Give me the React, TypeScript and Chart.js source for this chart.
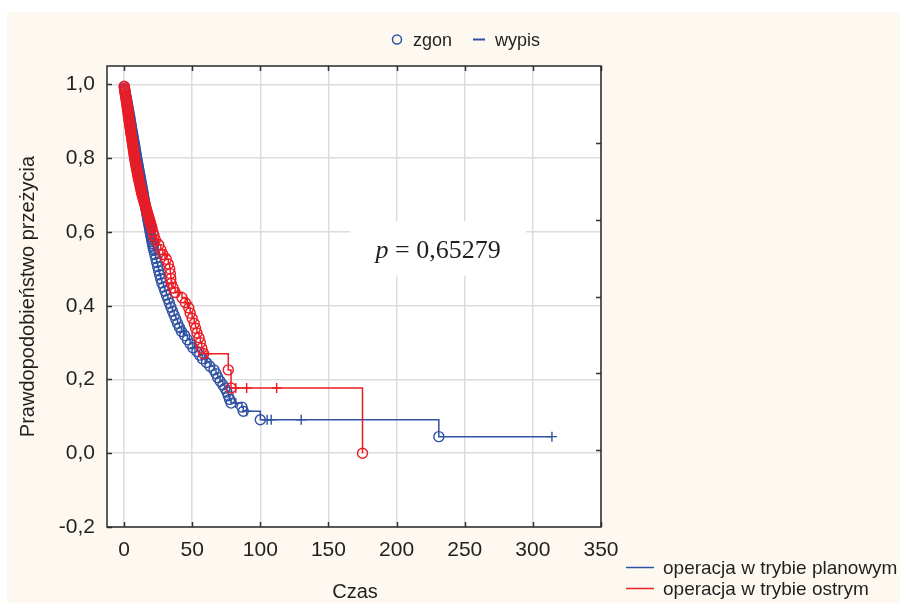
import React, { useEffect, useRef } from "react";
import { Chart, registerables } from "chart.js";

Chart.register(...registerables);

// ---------- DATA ----------
// operacja w trybie planowym (blue) — events (zgon)
const planEventTimes = [
  0.15, 0.4, 0.7, 1.0, 1.3, 1.6, 1.9, 2.2, 2.5, 2.8, 3.1, 3.4, 3.7, 4.0, 4.3, 4.5, 4.8,
  5.1, 5.4, 5.6, 5.9, 6.2, 6.5, 6.7, 7.0, 7.3, 7.6, 7.9, 8.1, 8.4, 8.7, 9.0, 9.2,
  9.5, 9.8, 10.1, 10.4, 10.7, 11.0, 11.3, 11.6, 11.9, 12.2, 12.5, 12.8, 13.1, 13.4, 13.7, 13.9, 14.2,
  14.5, 14.8, 15.1, 15.4, 15.7, 16.0, 16.3, 16.6, 16.9, 17.2, 17.5, 17.8, 18.1, 18.4, 18.7, 19.0, 19.3,
  19.6, 19.9, 20.2, 20.5, 20.9, 21.2, 21.5, 21.9,
  22.6, 23.3, 24.0, 24.7, 25.4, 26.1, 26.9, 27.7, 29.0, 30.0, 31.1, 32.2, 33.3, 34.4, 35.6, 36.8,
  38.0, 39.3, 40.7, 42.2, 44.5, 46.5, 48.5, 50.5, 53.5, 55.5, 57.5, 60.5, 63.0, 66.0, 67.5, 68.8,
  70.5, 72.5, 74.0, 75.5, 76.5, 77.5, 78.5, 86.5, 87.5, 100, 231,
];
const planEventSurv = [
  0.994, 0.988, 0.982, 0.976, 0.97, 0.964, 0.958, 0.952, 0.946, 0.94, 0.934, 0.928, 0.922, 0.916, 0.91, 0.904, 0.898,
  0.892, 0.886, 0.88, 0.874, 0.868, 0.862, 0.856, 0.85, 0.844, 0.838, 0.832, 0.826, 0.82, 0.814, 0.808, 0.802,
  0.796, 0.79, 0.784, 0.778, 0.772, 0.766, 0.76, 0.754, 0.748, 0.742, 0.736, 0.73, 0.724, 0.718, 0.712, 0.706, 0.7,
  0.694, 0.688, 0.682, 0.676, 0.67, 0.664, 0.658, 0.652, 0.646, 0.64, 0.634, 0.628, 0.622, 0.616, 0.61, 0.604, 0.598,
  0.592, 0.586, 0.58, 0.574, 0.568, 0.562, 0.556, 0.55,
  0.539, 0.528, 0.517, 0.506, 0.495, 0.484, 0.473, 0.462, 0.451, 0.44, 0.429, 0.418, 0.407, 0.396, 0.385, 0.374,
  0.363, 0.352, 0.341, 0.33, 0.319, 0.308, 0.297, 0.286, 0.276, 0.266, 0.256, 0.246, 0.236, 0.226, 0.216, 0.205,
  0.195, 0.185, 0.176, 0.166, 0.156, 0.146, 0.136, 0.125, 0.114, 0.091, 0.045,
];
// operacja w trybie planowym — censored (wypis)
const planCensorTimes = [43.5, 52, 59.5, 82, 90, 105, 108, 130, 314];
const planCensorSurv = [0.33, 0.286, 0.256, 0.136, 0.114, 0.091, 0.091, 0.091, 0.045];

// operacja w trybie ostrym (red) — events (zgon)
const acuteEventTimes = [
  0.15, 0.3, 0.5, 0.7, 0.9, 1.1, 1.3, 1.5, 1.7, 1.9, 2.1, 2.3, 2.5, 2.7, 2.9, 3.0, 3.2, 3.4, 3.6, 3.8,
  4.0, 4.2, 4.4, 4.6, 4.8, 5.0, 5.2, 5.4, 5.6, 5.8, 6.0, 6.2, 6.4, 6.6, 6.8, 7.0, 7.2, 7.4, 7.6, 7.8,
  8.0, 8.3, 8.5, 8.8, 9.0, 9.3, 9.5, 9.8, 10.0, 10.3, 10.6, 10.9, 11.2, 11.5, 11.8, 12.1, 12.4, 12.7, 13.0, 13.3,
  13.7, 14.1, 14.5, 14.9, 15.3, 15.7, 16.1, 16.5, 16.9, 17.3, 17.7, 18.1, 18.5, 18.9, 19.3, 19.7, 20.1, 20.5,
  21.2, 22.0, 23.0, 25.5, 27.0, 28.5, 31.0, 32.5, 33.5, 34.0, 34.3, 34.6, 36.0, 37.5, 42.5, 45.0,
  47.5, 48.5, 50.0, 51.5, 52.5, 53.5, 55.0, 56.0, 57.0, 58.5, 76.5, 78.5, 175,
];
const acuteEventSurv = [
  0.995, 0.99, 0.985, 0.98, 0.975, 0.97, 0.965, 0.96, 0.955, 0.95, 0.945, 0.94, 0.935, 0.93, 0.925, 0.92, 0.915, 0.91, 0.905, 0.9,
  0.895, 0.89, 0.885, 0.88, 0.875, 0.87, 0.865, 0.86, 0.855, 0.85, 0.845, 0.84, 0.835, 0.83, 0.825, 0.82, 0.815, 0.81, 0.805, 0.8,
  0.795, 0.79, 0.785, 0.78, 0.775, 0.77, 0.765, 0.76, 0.755, 0.75, 0.745, 0.74, 0.735, 0.73, 0.725, 0.72, 0.715, 0.71, 0.705, 0.7,
  0.695, 0.69, 0.685, 0.68, 0.675, 0.67, 0.665, 0.66, 0.655, 0.65, 0.645, 0.64, 0.635, 0.63, 0.625, 0.62, 0.615, 0.61,
  0.6, 0.59, 0.578, 0.565, 0.552, 0.539, 0.526, 0.513, 0.5, 0.487, 0.474, 0.461, 0.448, 0.436, 0.422, 0.408,
  0.394, 0.38, 0.366, 0.352, 0.339, 0.326, 0.313, 0.3, 0.285, 0.27, 0.226, 0.177, 0,
];
// operacja w trybie ostrym — censored (wypis)
const acuteCensorTimes = [24.0, 30.0, 35.0, 40.0, 46.5, 61.0, 82.0, 90.0, 112];
const acuteCensorSurv = [0.578, 0.539, 0.461, 0.436, 0.408, 0.27, 0.177, 0.177, 0.177];

const seriesLabels = ["operacja w trybie planowym", "operacja w trybie ostrym"];
const markerLabels = ["zgon", "wypis"];
const xTickValues = [0, 50, 100, 150, 200, 250, 300, 350];
const yTickValues = [-0.2, 0, 0.2, 0.4, 0.6, 0.8, 1.0];
const rightTickValues = [0, 1, 2, 3, 4];
const xTitle = "Czas";
const yTitle = "Prawdopodobieństwo przeżycia";
const pValue = "0,65279";

// ---------- STYLE / LAYOUT ----------
const BLUE = "#2f52a3";
const RED = "#ec1c24";
const CREAM = "#fdf9f1";
const TEXT = "#231f20";
const SANS = '"Liberation Sans", Arial, sans-serif';
const SERIF = '"Liberation Serif", "Times New Roman", serif';
const pBoxX = [166, 295];
const pBoxY = [0.482, 0.63];

type Pt = { x: number; y: number; k: string };

function mergeSeries(et: number[], es: number[], ct: number[], cs: number[]): Pt[] {
  const pts: Pt[] = [{ x: 0, y: 1, k: "" }];
  et.forEach((x, i) => pts.push({ x, y: es[i], k: "o" }));
  ct.forEach((x, i) => pts.push({ x, y: cs[i], k: "+" }));
  return pts.sort((a, b) => a.x - b.x || (a.k === "+" ? 1 : 0) - (b.k === "+" ? 1 : 0));
}

function buildDataset(label: string, pts: Pt[], color: string, order: number) {
  return {
    label,
    data: pts.map((p) => ({ x: p.x, y: p.y })),
    borderColor: color,
    backgroundColor: color,
    borderWidth: 1.5,
    stepped: true as const,
    fill: false,
    order,
    pointStyle: pts.map((p) => (p.k === "+" ? "cross" : "circle")),
    pointRadius: pts.map((p) => (p.k === "" ? 0 : 5)),
    pointBorderWidth: 1.4,
    pointBorderColor: color,
    pointBackgroundColor: "rgba(0,0,0,0)",
    pointHoverRadius: 0,
  };
}

const decoPlugin = {
  id: "deco",
  beforeDraw(chart: any) {
    const { ctx, chartArea: a, width, height } = chart;
    ctx.save();
    ctx.fillStyle = "#ffffff";
    ctx.fillRect(0, 0, width, height);
    ctx.fillStyle = CREAM;
    ctx.fillRect(7, 12, width - 7, height - 14);
    ctx.fillStyle = "#ffffff";
    ctx.fillRect(a.left, a.top, a.right - a.left, a.bottom - a.top);
    ctx.restore();
  },
  beforeDatasetsDraw(chart: any) {
    const { ctx } = chart;
    const xs = chart.scales.x;
    const ys = chart.scales.y;
    const x0 = xs.getPixelForValue(pBoxX[0]);
    const x1 = xs.getPixelForValue(pBoxX[1]);
    const y0 = ys.getPixelForValue(pBoxY[1]);
    const y1 = ys.getPixelForValue(pBoxY[0]);
    ctx.save();
    ctx.fillStyle = "#ffffff";
    ctx.fillRect(x0, y0, x1 - x0, y1 - y0);
    ctx.fillStyle = TEXT;
    ctx.textBaseline = "alphabetic";
    ctx.font = `italic 26px ${SERIF}`;
    const wp = ctx.measureText("p").width;
    ctx.font = `26px ${SERIF}`;
    const rest = " = " + pValue;
    const wr = ctx.measureText(rest).width;
    const cx = (x0 + x1) / 2;
    const start = cx - (wp + wr) / 2;
    const base = (y0 + y1) / 2 + 10;
    ctx.font = `italic 26px ${SERIF}`;
    ctx.fillText("p", start, base);
    ctx.font = `26px ${SERIF}`;
    ctx.fillText(rest, start + wp, base);
    ctx.restore();
  },
  afterDraw(chart: any) {
    const { ctx, chartArea: a } = chart;
    const xs = chart.scales.x;
    const ys = chart.scales.y;
    const y2 = chart.scales.y2;
    ctx.save();
    ctx.strokeStyle = "#333333";
    ctx.lineWidth = 1.5;
    ctx.beginPath();
    xTickValues.forEach((v) => {
      const px = Math.round(xs.getPixelForValue(v)) + 0.5;
      ctx.moveTo(px, a.bottom);
      ctx.lineTo(px, a.bottom - 5);
      ctx.moveTo(px, a.top);
      ctx.lineTo(px, a.top + 5);
    });
    yTickValues.forEach((v) => {
      const py = Math.round(ys.getPixelForValue(v)) + 0.5;
      ctx.moveTo(a.left, py);
      ctx.lineTo(a.left + 5, py);
    });
    rightTickValues.forEach((v) => {
      const py = Math.round(y2.getPixelForValue(v)) + 0.5;
      ctx.moveTo(a.right, py);
      ctx.lineTo(a.right - 5, py);
    });
    ctx.stroke();
    ctx.strokeStyle = "#2a2a2a";
    ctx.lineWidth = 1.5;
    ctx.strokeRect(a.left, a.top, a.right - a.left, a.bottom - a.top);

    // top legend (marker styles)
    ctx.fillStyle = TEXT;
    ctx.font = `18px ${SANS}`;
    ctx.textBaseline = "alphabetic";
    ctx.textAlign = "left";
    ctx.strokeStyle = BLUE;
    ctx.lineWidth = 1.5;
    ctx.beginPath();
    ctx.arc(397, 39.5, 4.5, 0, Math.PI * 2);
    ctx.stroke();
    ctx.fillText(markerLabels[0], 413, 46);
    ctx.lineWidth = 2;
    ctx.beginPath();
    ctx.moveTo(473, 39.5);
    ctx.lineTo(485, 39.5);
    ctx.stroke();
    ctx.fillText(markerLabels[1], 495, 46);

    // bottom-right legend (series)
    ctx.font = `19px ${SANS}`;
    const colors = [BLUE, RED];
    const baselines = [574, 595];
    seriesLabels.forEach((lab, i) => {
      ctx.strokeStyle = colors[i];
      ctx.lineWidth = 1.5;
      ctx.beginPath();
      ctx.moveTo(626, baselines[i] - 6.5);
      ctx.lineTo(654, baselines[i] - 6.5);
      ctx.stroke();
      ctx.fillText(lab, 663, baselines[i]);
    });

    // axis titles
    ctx.font = `20px ${SANS}`;
    ctx.textAlign = "center";
    ctx.fillText(xTitle, (a.left + a.right) / 2 + 1, 598);
    ctx.translate(34, (a.top + a.bottom) / 2);
    ctx.rotate(-Math.PI / 2);
    ctx.fillText(yTitle, 0, 0);
    ctx.restore();
  },
};

export default function App() {
  const ref = useRef<HTMLCanvasElement | null>(null);
  useEffect(() => {
    if (!ref.current) return;
    const planPts = mergeSeries(planEventTimes, planEventSurv, planCensorTimes, planCensorSurv);
    const acutePts = mergeSeries(acuteEventTimes, acuteEventSurv, acuteCensorTimes, acuteCensorSurv);
    const chart = new Chart(ref.current, {
      type: "line",
      data: {
        datasets: [
          buildDataset(seriesLabels[0], planPts, BLUE, 1) as any,
          buildDataset(seriesLabels[1], acutePts, RED, 0) as any,
        ],
      },
      options: {
        animation: false,
        responsive: true,
        maintainAspectRatio: false,
        events: [],
        layout: { padding: { top: 66, right: 299, bottom: 0, left: 0 } },
        plugins: { legend: { display: false }, tooltip: { enabled: false } },
        scales: {
          x: {
            type: "linear",
            min: -12.5,
            max: 350,
            afterBuildTicks: (s: any) => {
              s.ticks = xTickValues.map((v) => ({ value: v }));
            },
            afterFit: (s: any) => {
              s.height = 78;
            },
            grid: { color: "#dcdcdc", lineWidth: 1.5, drawTicks: false },
            border: { display: false },
            ticks: {
              padding: 11,
              color: TEXT,
              font: { family: SANS, size: 21 },
              maxRotation: 0,
              autoSkip: false,
              callback: (v: any) => String(v),
            },
          },
          y: {
            type: "linear",
            min: -0.2,
            max: 1.05,
            afterBuildTicks: (s: any) => {
              s.ticks = yTickValues.map((v) => ({ value: v }));
            },
            afterFit: (s: any) => {
              s.width = 107;
            },
            grid: { color: "#dcdcdc", lineWidth: 1.5, drawTicks: false },
            border: { display: false },
            ticks: {
              padding: 12,
              color: TEXT,
              font: { family: SANS, size: 21 },
              autoSkip: false,
              callback: (v: any) => Number(v).toFixed(1).replace(".", ","),
            },
          },
          y2: {
            type: "linear",
            position: "right",
            min: -1,
            max: 5,
            afterFit: (s: any) => {
              s.width = 0;
            },
            grid: { display: false, drawTicks: false },
            border: { display: false },
            ticks: { display: false },
          },
        },
      } as any,
      plugins: [decoPlugin],
    });
    return () => chart.destroy();
  }, []);
  return (
    <div style={{ position: "absolute", left: 0, top: 0, width: 900, height: 605 }}>
      <canvas ref={ref} />
    </div>
  );
}
